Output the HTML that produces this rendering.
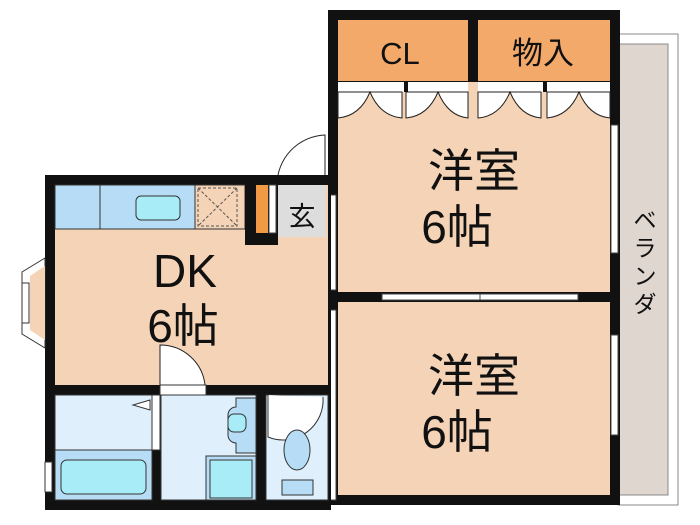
<!DOCTYPE html>
<html><head><meta charset="utf-8"><style>
html,body{margin:0;padding:0;background:#fff;width:700px;height:525px;overflow:hidden}
text{font-family:"Liberation Sans","Noto Sans CJK JP",sans-serif;fill:#111}
</style></head><body>
<svg width="700" height="525" viewBox="0 0 700 525" xmlns="http://www.w3.org/2000/svg">
<rect x="618" y="34" width="60" height="471" fill="#fff" stroke="#888" stroke-width="1"/>
<rect x="618" y="44" width="50" height="451" fill="#e0d6d0" stroke="#888" stroke-width="1"/>
<text x="645" y="228" font-size="23" text-anchor="middle">ベ</text>
<text x="645" y="256" font-size="23" text-anchor="middle">ラ</text>
<text x="645" y="284" font-size="23" text-anchor="middle">ン</text>
<text x="645" y="312" font-size="23" text-anchor="middle">ダ</text>

<rect x="328" y="10" width="292" height="495" fill="#111"/>
<rect x="338" y="20" width="130" height="61" fill="#f2a96a"/>
<rect x="478" y="20" width="132" height="61" fill="#f2a96a"/>
<text x="400" y="64" font-size="31" text-anchor="middle">CL</text>
<text x="543" y="64" font-size="31" text-anchor="middle">物入</text>
<rect x="338" y="82" width="272" height="210" fill="#f4d3b6"/>
<g fill="#fff" stroke="#222" stroke-width="1">
<rect x="338" y="82" width="130" height="10" stroke="none"/>
<rect x="478" y="82" width="132" height="10" stroke="none"/>
<path d="M338,92 L338,118 Q360,116 370,92 Q380,116 402,118 L402,92 Z"/>
<path d="M406,92 L406,118 Q428,116 438,92 Q448,116 468,118 L468,92 Z"/>
<path d="M478,92 L478,118 Q500,116 510,92 Q520,116 541,118 L541,92 Z"/>
<path d="M547,92 L547,118 Q569,116 579,92 Q589,116 610,118 L610,92 Z"/>
</g>
<rect x="404" y="82" width="4" height="10" fill="#111"/>
<rect x="543" y="82" width="4" height="10" fill="#111"/>
<rect x="338" y="302" width="272" height="193" fill="#f4d3b6"/>
<rect x="382" y="294" width="196" height="6" fill="#fff" stroke="#444" stroke-width="1"/>
<line x1="480" y1="294" x2="480" y2="300" stroke="#444"/>
<rect x="611" y="125" width="7" height="128" fill="#fff" stroke="#444" stroke-width="1"/>
<rect x="611" y="335" width="7" height="100" fill="#fff" stroke="#444" stroke-width="1"/>
<rect x="329" y="195" width="7" height="95" fill="#fff" stroke="#444" stroke-width="1"/>
<rect x="329" y="310" width="7" height="190" fill="#fff" stroke="#444" stroke-width="1"/>
<text x="474" y="187" font-size="46" text-anchor="middle">洋室</text>
<text x="457" y="243" font-size="46" text-anchor="middle">6帖</text>
<text x="474" y="392" font-size="46" text-anchor="middle">洋室</text>
<text x="457" y="448" font-size="46" text-anchor="middle">6帖</text>

<rect x="275" y="133" width="52" height="52" fill="#fff"/>
<path d="M325,185 L325,135 A50,50 0 0 0 277,185" fill="#fff" stroke="#222" stroke-width="1"/>

<rect x="45" y="175" width="286" height="335" fill="#111"/>
<rect x="55" y="185" width="273" height="200" fill="#f4d3b6"/>
<rect x="55" y="185" width="190" height="44" fill="#b7dcf5" stroke="#333" stroke-width="1"/>
<line x1="100" y1="185" x2="100" y2="229" stroke="#333"/>
<rect x="136" y="196" width="44" height="24" rx="5" fill="#a8ecf7" stroke="#333"/>
<rect x="195" y="185" width="50" height="44" fill="#f4d3b6" stroke="#333" stroke-width="1"/>
<path d="M198,188 h39 v38 h-39 z M198,188 L237,226 M237,188 L198,226" fill="none" stroke="#555" stroke-dasharray="3,2"/>
<rect x="245" y="175" width="33" height="70" fill="#111"/>
<rect x="256" y="185" width="12" height="48" fill="#f09a45"/>
<rect x="269" y="185" width="7" height="48" fill="#fff" stroke="#444"/>
<rect x="278" y="185" width="48" height="52" fill="#ddd"/>
<text x="302" y="226" font-size="27" text-anchor="middle">玄</text>
<path d="M45,258 L22,272 L22,334 L45,348 Z" fill="#fff" stroke="#333"/>
<path d="M45,266 L30,276 L30,330 L45,340 Z" fill="#f4d3b6"/>
<rect x="22" y="283" width="7" height="40" fill="#fff" stroke="#333"/>
<text x="185" y="287" font-size="46" text-anchor="middle">DK</text>
<text x="183" y="342" font-size="46" text-anchor="middle">6帖</text>
<path d="M160,385 L160,345 A45,45 0 0 1 205,385 Z" fill="#fff" stroke="#222"/>
<rect x="160" y="385" width="46" height="10" fill="#fff" stroke="#333"/>
<rect x="55" y="395" width="97" height="105" fill="#dff0fc" stroke="#333"/>
<rect x="55" y="450" width="97" height="50" fill="#b7dcf5" stroke="#333"/>
<rect x="61" y="460" width="85" height="34" rx="6" fill="#a8ecf7" stroke="#333"/>
<path d="M150,400 L133,405 L150,410 Z" fill="#fff" stroke="#333"/>
<rect x="152" y="395" width="8" height="55" fill="#fff" stroke="#333"/>
<rect x="45" y="462" width="7" height="30" fill="#fff" stroke="#333"/>
<rect x="161" y="395" width="95" height="105" fill="#dff0fc" stroke="#333"/>
<path d="M236,398 h20 v55 h-20 v-10 a8,8 0 0 1 -8,-8 v-20 a8,8 0 0 1 8,-8 z" fill="#b7dcf5" stroke="#333"/>
<rect x="228" y="414" width="18" height="18" rx="6" fill="#a8ecf7" stroke="#333"/>
<rect x="206" y="456" width="50" height="44" fill="#b7dcf5" stroke="#333"/>
<rect x="210" y="460" width="42" height="38" fill="#a8ecf7" stroke="#333"/>
<rect x="266" y="395" width="62" height="105" fill="#dff0fc" stroke="#333"/>
<path d="M268,395 L268,437 A40,40 0 0 0 323,397" fill="#fff" stroke="#333"/>
<ellipse cx="297" cy="450" rx="13" ry="20" fill="#b7dcf5" stroke="#333"/>
<rect x="282" y="480" width="31" height="15" fill="#b7dcf5" stroke="#333"/>
</svg>
</body></html>
